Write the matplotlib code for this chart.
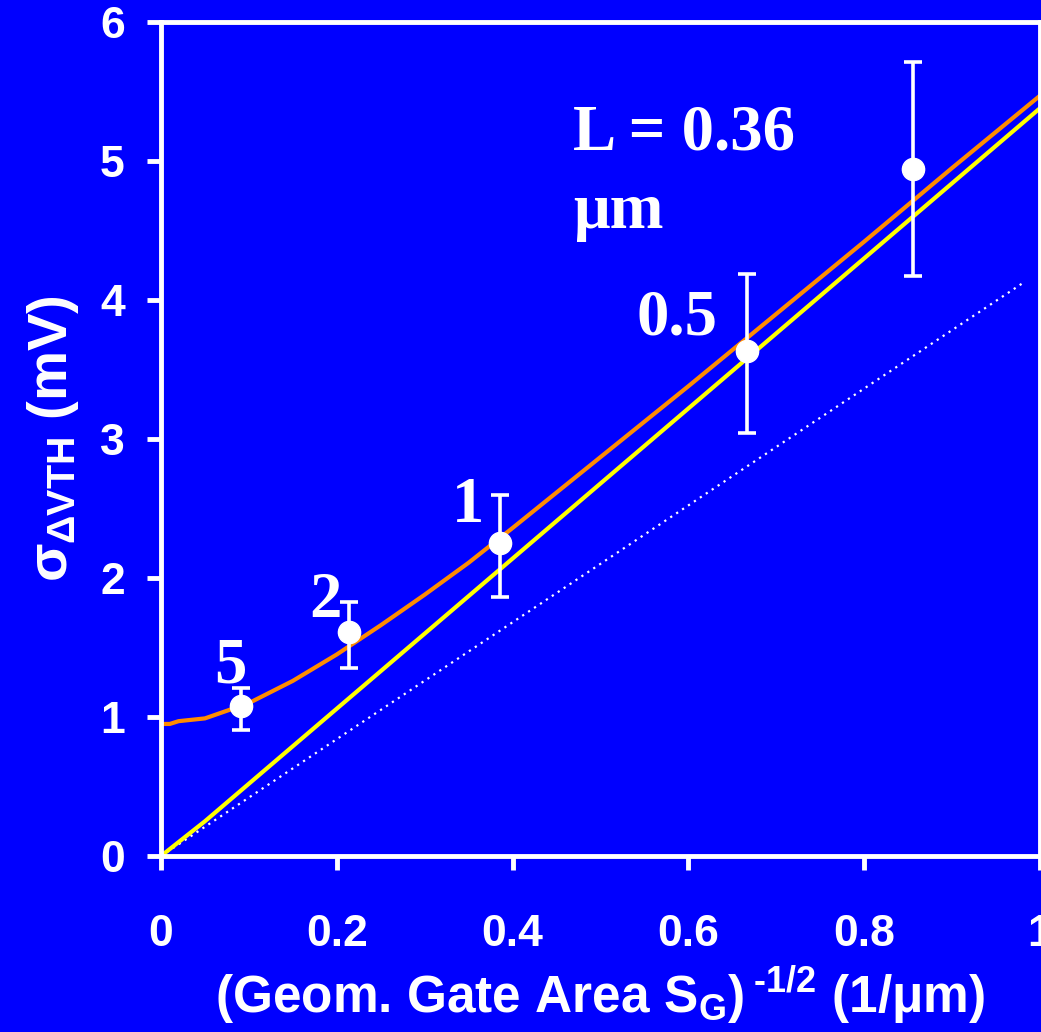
import matplotlib
matplotlib.use('Agg')
import matplotlib.pyplot as plt
import numpy as np

plt.rcParams['mathtext.fontset'] = 'custom'
plt.rcParams['mathtext.rm'] = 'Liberation Sans:bold'
plt.rcParams['mathtext.it'] = 'Liberation Sans:bold'
plt.rcParams['mathtext.bf'] = 'Liberation Sans:bold'
plt.rcParams['mathtext.sf'] = 'Liberation Sans:bold'

# measured points (gate area labels)
pt_x = [0.091, 0.214, 0.386, 0.667, 0.856]
pt_y = [1.08, 1.61, 2.25, 3.63, 4.94]
err_hi = [1.21, 1.83, 2.60, 4.19, 5.71]
err_lo = [0.91, 1.35, 1.86, 3.04, 4.17]
pt_labels = ['5', '2', '1', '0.5']
label_x = [0.0785, 0.187, 0.349, 0.587]
label_y = [1.245, 1.72, 2.40, 3.75]

# model curves
orange_x = [0, 0.01, 0.02, 0.05, 0.1, 0.15, 0.2, 0.25, 0.3, 0.35, 0.4,
            0.5, 0.6, 0.7, 0.8, 0.9, 1.0]
orange_y = [0.95, 0.95, 0.97, 0.99, 1.10, 1.26, 1.45, 1.66, 1.88, 2.11, 2.36,
            2.87, 3.38, 3.90, 4.42, 4.95, 5.47]
yellow_x = [0, 0.05, 0.1, 0.2, 0.3, 0.4, 0.5, 0.6, 0.7, 0.8, 0.9, 1.0]
yellow_y = [0, 0.25, 0.52, 1.06, 1.60, 2.14, 2.68, 3.22, 3.76, 4.30, 4.84, 5.38]
dot_x = [0, 0.98]
dot_y = [0, 4.12]

blue = '#0000FF'
fig = plt.figure(figsize=(10.41, 10.32), dpi=100, facecolor=blue)
ax = fig.add_axes([161 / 1041, 1 - 856 / 1032, (1040 - 161) / 1041, (856 - 22) / 1032])
ax.set_facecolor(blue)

ax.plot(dot_x, dot_y, color='white', lw=1.6, ls=(0, (1, 2.2)))
ax.plot(yellow_x, yellow_y, color='#FFFF00', lw=3)
ax.plot(orange_x, orange_y, color='#FF8C00', lw=3)

yerr = [np.array(pt_y) - np.array(err_lo), np.array(err_hi) - np.array(pt_y)]
ax.errorbar(pt_x, pt_y, yerr=yerr, fmt='o', color='white', ms=16,
            elinewidth=2.6, capsize=6.5, capthick=2.6, zorder=5)

for lx, ly, t in zip(label_x, label_y, pt_labels):
    ax.text(lx, ly, t, color='white', fontsize=46.5, fontfamily='Liberation Serif',
            fontweight='bold', ha='center', va='baseline')
ax.text(0.469, 5.08, 'L = 0.36', color='white', fontsize=46.5,
        fontfamily='Liberation Serif', fontweight='bold', ha='left', va='baseline')
ax.text(0.469, 4.52, 'μm', color='white', fontsize=46.5,
        fontfamily='Liberation Serif', fontweight='bold', ha='left', va='baseline')

ax.set_xlim(0, 1)
ax.set_ylim(0, 6)
ax.set_xticks([0, 0.2, 0.4, 0.6, 0.8, 1])
ax.set_xticklabels(['0', '0.2', '0.4', '0.6', '0.8', '1'])
ax.set_yticks(range(7))
for s in ax.spines.values():
    s.set_color('white')
    s.set_linewidth(3.5)
ax.tick_params(colors='white', width=3.5, length=10, labelsize=32)
ax.tick_params(axis='y', pad=16)
ax.tick_params(axis='x', pad=32)
for lab in ax.get_xticklabels() + ax.get_yticklabels():
    lab.set_fontfamily('Liberation Sans')
    lab.set_fontweight('bold')

ax.set_xlabel(r'(Geom. Gate Area S$_{\mathrm{G}}$)$^{\;\text{-1/2}}$ (1/μm)', color='white',
              fontsize=37, fontfamily='Liberation Sans', fontweight='bold', labelpad=6)
ax.set_ylabel(r'$\sigma_{\Delta\mathrm{VTH}}$ (mV)', color='white', fontsize=40.5,
              fontfamily='Liberation Sans', fontweight='bold', labelpad=14)

fig.savefig('out.png', dpi=100, facecolor=blue)
